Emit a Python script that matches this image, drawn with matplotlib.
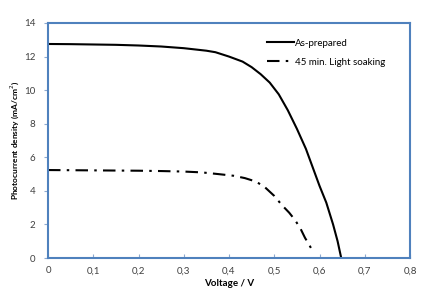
import numpy as np
from matplotlib import pyplot as plt
from matplotlib.ticker import FuncFormatter

# As-prepared cell
v_prep = [0.0, 0.05, 0.1, 0.15, 0.2, 0.25, 0.3, 0.35, 0.37, 0.4, 0.43, 0.45, 0.47, 0.49,
          0.51, 0.53, 0.55, 0.57, 0.585, 0.6, 0.615, 0.63, 0.64, 0.648]
j_prep = [12.75, 12.74, 12.72, 12.7, 12.66, 12.6, 12.5, 12.35, 12.26, 12.0, 11.7, 11.37,
          10.95, 10.45, 9.75, 8.8, 7.7, 6.5, 5.4, 4.3, 3.3, 2.0, 1.0, 0.0]

# 45 min. light soaking
v_soak = [0.0, 0.05, 0.1, 0.15, 0.2, 0.25, 0.3, 0.34, 0.376, 0.41, 0.435, 0.46, 0.48,
          0.5, 0.517, 0.533, 0.546, 0.558, 0.568, 0.577, 0.585]
j_soak = [5.24, 5.23, 5.22, 5.21, 5.2, 5.18, 5.15, 5.1, 5.0, 4.9, 4.76, 4.55, 4.2,
          3.7, 3.15, 2.7, 2.26, 1.75, 1.2, 0.8, 0.4]

x_ticks = [0, 0.1, 0.2, 0.3, 0.4, 0.5, 0.6, 0.7, 0.8]
y_ticks = [0, 2, 4, 6, 8, 10, 12, 14]

plt.rcParams['font.family'] = ['Lato', 'DejaVu Sans']

fig = plt.figure(figsize=(4.29, 2.98), dpi=100)
ax = fig.add_axes([48 / 429, 40 / 298, 362 / 429, 235 / 298])

ax.plot(v_prep, j_prep, color='black', lw=1.5, label='As-prepared')
ax.plot(v_soak, j_soak, color='black', lw=1.5, dashes=(6, 3, 1.2, 3),
        label='45 min. Light soaking')

ax.set_xlim(0, 0.8)
ax.set_ylim(0, 14)
ax.set_xticks(x_ticks)
ax.set_yticks(y_ticks)
ax.xaxis.set_major_formatter(FuncFormatter(lambda v, p: ('%g' % v).replace('.', ',')))

for s in ax.spines.values():
    s.set_color('#4F81BD')
    s.set_linewidth(1.5)
ax.tick_params(axis='x', direction='in', length=3, color='#8EA9CF', labelsize=7,
               labelcolor='#404040', pad=6)
ax.tick_params(axis='y', direction='out', length=3, color='#8EA9CF', labelsize=7,
               labelcolor='#404040', pad=6)

ax.set_ylabel('Photocurrent density (mA/cm$^2$)', fontsize=6, fontweight='bold')
ax.yaxis.set_label_coords(-0.075, 0.5)
ax.set_xlabel('Voltage / V', fontsize=7, fontweight='bold')
ax.xaxis.set_label_coords(0.5, -0.09)

ax.legend(loc='upper right', bbox_to_anchor=(0.955, 0.97), frameon=False, fontsize=7,
          handlelength=2.8, handletextpad=0.1, labelspacing=1.0)

fig.savefig('out.png', dpi=100)
